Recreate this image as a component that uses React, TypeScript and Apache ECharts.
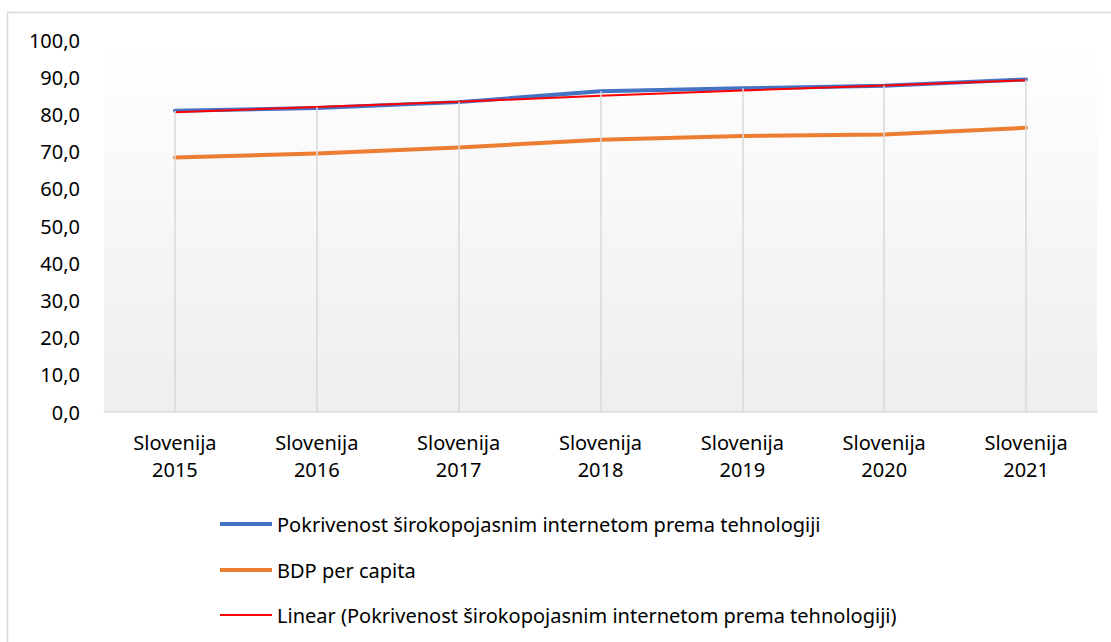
import React, { useEffect, useRef } from "react";
import * as echarts from "echarts";

const categories = [
  "Slovenija\n2015",
  "Slovenija\n2016",
  "Slovenija\n2017",
  "Slovenija\n2018",
  "Slovenija\n2019",
  "Slovenija\n2020",
  "Slovenija\n2021",
];
const coverage = [81.0, 81.7, 83.3, 86.2, 87.0, 87.7, 89.4];
const gdp = [68.4, 69.5, 71.1, 73.2, 74.2, 74.6, 76.4];
const trend = [80.6, 82.0, 83.4, 85.0, 86.4, 87.8, 89.2];

const nameCoverage = "Pokrivenost širokopojasnim internetom prema tehnologiji";
const nameGdp = "BDP per capita";
const nameTrend = "Linear (Pokrivenost širokopojasnim internetom prema tehnologiji)";

const FONT = "Noto Sans";

export default function App() {
  const ref = useRef<HTMLDivElement>(null);
  useEffect(() => {
    if (!ref.current) return;
    const chart = echarts.init(ref.current, null, { renderer: "svg" });
    const dropData = categories.map((c, i) => [
      { coord: [i, 0] },
      { coord: [i, Math.max(coverage[i], trend[i])] },
    ]);
    const legendRows = [
      { name: nameCoverage, color: "#4472C4", width: 4, y: 524 },
      { name: nameGdp, color: "#ED7D31", width: 4, y: 570 },
      { name: nameTrend, color: "#FF0000", width: 2, y: 615 },
    ];
    const graphics: any[] = [
      {
        type: "rect",
        shape: { x: 7.5, y: 12.5, width: 1200, height: 700 },
        style: { fill: "none", stroke: "#d9d9d9", lineWidth: 1.5 },
        silent: true,
      },
    ];
    legendRows.forEach((r) => {
      graphics.push({
        type: "line",
        shape: { x1: 220, y1: r.y, x2: 272, y2: r.y },
        style: { stroke: r.color, lineWidth: r.width },
        silent: true,
      });
      graphics.push({
        type: "text",
        x: 277,
        y: r.y,
        style: {
          text: r.name,
          fontFamily: FONT,
          fontSize: 20,
          fill: "#000",
          verticalAlign: "middle",
          align: "left",
        },
        silent: true,
      });
    });
    chart.setOption({
      animation: false,
      backgroundColor: "#ffffff",
      textStyle: { fontFamily: FONT },
      grid: {
        left: 104,
        right: 14,
        top: 40,
        bottom: 230,
        show: true,
        borderWidth: 0,
        backgroundColor: new echarts.graphic.LinearGradient(0, 0, 0, 1, [
          { offset: 0, color: "#ffffff" },
          { offset: 1, color: "#eeeeee" },
        ]),
      },
      xAxis: {
        type: "category",
        data: categories,
        boundaryGap: true,
        axisLine: { show: true, lineStyle: { color: "#d9d9d9", width: 1.5 } },
        axisTick: { show: false },
        splitLine: { show: false },
        axisLabel: {
          color: "#000",
          fontFamily: FONT,
          fontSize: 20,
          lineHeight: 27,
          margin: 17,
          interval: 0,
        },
      },
      yAxis: {
        type: "value",
        min: 0,
        max: 100,
        interval: 10,
        axisLine: { show: false },
        axisTick: { show: false },
        splitLine: { show: false },
        axisLabel: {
          color: "#000",
          fontFamily: FONT,
          fontSize: 20,
          margin: 24,
          formatter: (v: number) => v.toFixed(1).replace(".", ","),
        },
      },
      graphic: graphics,
      series: [
        {
          type: "line",
          name: "drop",
          data: [],
          z: 1,
          silent: true,
          markLine: {
            silent: true,
            symbol: ["none", "none"],
            label: { show: false },
            lineStyle: { color: "#d9d9d9", width: 1.5, type: "solid" },
            data: dropData,
          },
        },
        {
          type: "line",
          name: nameCoverage,
          data: coverage,
          symbol: "none",
          z: 3,
          lineStyle: { color: "#4472C4", width: 4, cap: "round", join: "round" },
        },
        {
          type: "line",
          name: nameGdp,
          data: gdp,
          symbol: "none",
          z: 3,
          lineStyle: { color: "#ED7D31", width: 4, cap: "round", join: "round" },
        },
        {
          type: "line",
          name: nameTrend,
          data: trend,
          symbol: "none",
          z: 4,
          lineStyle: { color: "#FF0000", width: 2 },
        },
      ],
    });
    return () => chart.dispose();
  }, []);
  return (
    <div
      ref={ref}
      style={{ position: "absolute", left: 0, top: 0, width: 1111, height: 642 }}
    />
  );
}
